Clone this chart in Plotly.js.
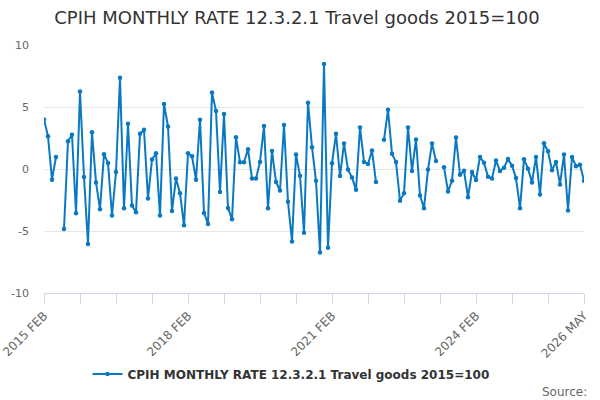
<!DOCTYPE html>
<html>
<head>
<meta charset="utf-8">
<script src="https://cdn.plot.ly/plotly-3.0.1.min.js"></script>
<style>html,body{margin:0;padding:0;background:#fff;}#chart{width:600px;height:400px;}</style>
</head>
<body>
<div id="chart"></div>
<script>
var seriesName = "CPIH MONTHLY RATE 12.3.2.1 Travel goods 2015=100";
var monthNames = ["JAN","FEB","MAR","APR","MAY","JUN","JUL","AUG","SEP","OCT","NOV","DEC"];
var startYear = 2015, startMonth = 1, monthCount = 136;
var categories = [];
for (var k = 0; k < monthCount; k++) {
  var m = startMonth + k;
  categories.push((startYear + Math.floor(m / 12)) + " " + monthNames[m % 12]);
}
var values = [
  4.0, 2.65, -0.86, 0.97, null, -4.84, 2.24, 2.76, -3.57, 6.24,
  -0.65, -6.05, 2.97, -1.08, -3.24, 1.19, 0.49, -3.76, -0.24, 7.35,
  -3.16, 3.65, -2.95, -3.49, 2.84, 3.16, -2.38, 0.76, 1.27, -3.76,
  5.24, 3.43, -3.38, -0.76, -1.95, -4.54, 1.27, 1.03, -0.86, 3.97,
  -3.54, -4.43, 6.16, 4.68, -1.86, 4.43, -3.14, -4.05, 2.57, 0.54,
  0.54, 1.59, -0.76, -0.76, 0.57, 3.46, -3.16, 1.46, -1.05, -1.73,
  3.54, -2.65, -5.84, 1.16, -0.54, -5.14, 5.35, 1.76, -0.95, -6.73,
  8.46, -6.35, 0.46, 2.84, -0.57, 2.05, -0.05, -0.68, -1.68, 3.35,
  0.57, 0.41, 1.49, -1.05, null, 2.35, 4.78, 1.22, 0.57, -2.57,
  -1.95, 3.35, -0.16, 2.38, -2.14, -3.16, -0.05, 2.05, 0.65, null,
  0.15, -1.81, -0.95, 2.54, -0.46, -0.14, -2.27, -0.24, -0.89, 0.97,
  0.51, -0.62, -0.76, 0.68, -0.16, 0.11, 0.81, 0.27, -0.73, -3.16,
  0.78, 0.03, -1.08, 0.97, -2.05, 2.08, 1.43, -0.11, 0.57, -1.24,
  1.16, -3.35, 0.97, 0.22, 0.35, -0.95
];
var tickIdx = [0,9,18,27,36,45,54,63,72,81,90,99,108,117,126,135];
var labelIdx = [0,36,72,108,135];
var yTicks = [-10,-5,0,5,10];

var tickvals = tickIdx.map(function(i){return categories[i];});
var ticktext = tickIdx.map(function(i){return labelIdx.indexOf(i) >= 0 ? categories[i] : "";});

var trace = {
  x: categories,
  y: values,
  type: "scatter",
  mode: "lines+markers",
  name: seriesName,
  connectgaps: false,
  line: {color: "#0a79c2", width: 2},
  marker: {color: "#0a79c2", size: 4.5}
};

var layout = {
  width: 600, height: 400,
  paper_bgcolor: "#fff", plot_bgcolor: "#fff",
  margin: {l: 44, r: 16, t: 45, b: 107, autoexpand: false},
  font: {family: "DejaVu Sans, sans-serif", color: "#666"},
  title: {text: "CPIH MONTHLY RATE 12.3.2.1 Travel goods 2015=100",
          font: {family: "DejaVu Sans, sans-serif", size: 18, color: "#333"},
          x: 0.495, xanchor: "center", y: 0.955, yanchor: "middle"},
  xaxis: {
    type: "category", categoryorder: "array", categoryarray: categories,
    range: [0, monthCount - 1], autorange: false, automargin: false,
    tickmode: "array", tickvals: tickvals, ticktext: ticktext,
    tickangle: -45, ticks: "outside", ticklen: 10, tickcolor: "#ccd6eb", tickwidth: 1,
    showline: true, linecolor: "#ccd6eb", linewidth: 1,
    showgrid: false, zeroline: false,
    tickfont: {size: 12, color: "#666"}
  },
  yaxis: {
    range: [-10, 10], autorange: false, automargin: false,
    tickmode: "array", tickvals: yTicks, ticktext: yTicks.map(String),
    showgrid: true, gridcolor: "#e6e6e6", gridwidth: 1,
    zeroline: false, showline: false, ticks: "",
    tickfont: {size: 11, color: "#666"}, ticklabelstandoff: 14
  },
  showlegend: true,
  legend: {orientation: "h", xref: "container", x: 0.485, xanchor: "center", yref: "container", y: 0.065, yanchor: "middle",
           font: {size: 12, color: "#333", weight: "bold"}, itemwidth: 30},
  annotations: [{text: "Source:", xref: "paper", yref: "paper", x: 1.009, y: -0.40,
                 xanchor: "right", yanchor: "middle", showarrow: false,
                 font: {size: 12, color: "#666"}}]
};

Plotly.newPlot("chart", [trace], layout, {displayModeBar: false, responsive: false});
</script>
</body>
</html>
